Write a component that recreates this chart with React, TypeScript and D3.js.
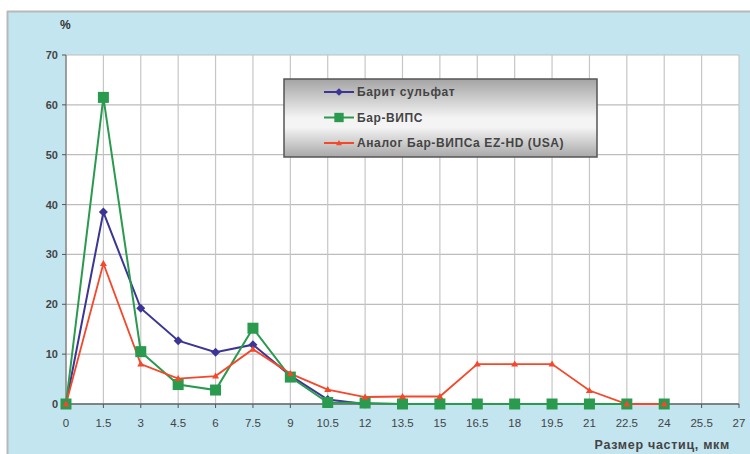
import React from "react";
import * as d3 from "d3";

const xValues = [0, 1.5, 3, 4.5, 6, 7.5, 9, 10.5, 12, 13.5, 15, 16.5, 18, 19.5, 21, 22.5, 24];
const xTicks = [0, 1.5, 3, 4.5, 6, 7.5, 9, 10.5, 12, 13.5, 15, 16.5, 18, 19.5, 21, 22.5, 24, 25.5, 27];
const yTicks = [0, 10, 20, 30, 40, 50, 60, 70];

const bariteSulfate = [0, 38.5, 19.2, 12.7, 10.4, 11.9, 5.7, 0.9, 0];
const barVips = [0, 61.5, 10.5, 3.9, 2.8, 15.2, 5.4, 0.3, 0.2, 0, 0, 0, 0, 0, 0, 0, 0];
const analogEz = [0, 28.2, 8, 5.1, 5.6, 11, 6.1, 2.9, 1.4, 1.5, 1.5, 8, 8, 8, 2.7, 0, 0];

const seriesNames = ["Барит сульфат", "Бар-ВИПС", "Аналог Бар-ВИПСа EZ-HD (USA)"];

const W = 750, H = 454;
const L = 66, R = 739, T = 55, B = 404;

export default function App() {
  const x = d3.scaleLinear().domain([0, 27]).range([L, R]);
  const y = d3.scaleLinear().domain([0, 70]).range([B, T]);
  const line = (vals: number[]) =>
    d3.line<number>().x((_, i) => x(xValues[i])).y((v) => y(v))(vals) || "";

  const series = [
    { name: seriesNames[0], vals: bariteSulfate, color: "#3b3596", marker: "diamond", w: 2 },
    { name: seriesNames[1], vals: barVips, color: "#2a9a4e", marker: "square", w: 2 },
    { name: seriesNames[2], vals: analogEz, color: "#f5472a", marker: "triangle", w: 1.8 },
  ];

  const marker = (type: string, cx: number, cy: number, color: string, key: any, s = 1) => {
    if (type === "square")
      return <rect key={key} x={cx - 5.5 * s} y={cy - 5.5 * s} width={11 * s} height={11 * s} fill={color} />;
    if (type === "diamond")
      return <path key={key} d={`M${cx},${cy - 4.5 * s}L${cx + 4.5 * s},${cy}L${cx},${cy + 4.5 * s}L${cx - 4.5 * s},${cy}Z`} fill={color} />;
    return <path key={key} d={`M${cx},${cy - 3.5 * s}L${cx + 3.5 * s},${cy + 2.5 * s}L${cx - 3.5 * s},${cy + 2.5 * s}Z`} fill={color} />;
  };

  const legX = 284, legY = 79, legW = 313, legH = 78;
  const font = "'Liberation Sans', Arial, sans-serif";

  return (
    <svg width={W} height={H} style={{ position: "absolute", left: 0, top: 0 }} fontFamily={font}>
      <defs>
        <linearGradient id="legGrad" x1="0" y1="0" x2="0" y2="1">
          <stop offset="0" stopColor="#a4a4a4" />
          <stop offset="0.5" stopColor="#f4f4f4" />
          <stop offset="0.62" stopColor="#f4f4f4" />
          <stop offset="1" stopColor="#a8a8a8" />
        </linearGradient>
      </defs>
      <rect x={0} y={0} width={W} height={H} fill="#ffffff" />
      <rect x={7} y={11} width={W - 7} height={H - 11} fill="#c3e5f0" />
      <line x1={7.5} y1={11} x2={7.5} y2={H} stroke="#b8b8b8" strokeWidth={2} />
      <line x1={7} y1={11.5} x2={W} y2={11.5} stroke="#b8b8b8" strokeWidth={2} />
      <rect x={L} y={T} width={R - L} height={B - T} fill="#ffffff" />
      {yTicks.map((t) => (
        <line key={"gy" + t} x1={L} x2={R} y1={y(t)} y2={y(t)} stroke="#bdbdbd" strokeWidth={1.2} />
      ))}
      {xTicks.map((t) => (
        <line key={"gx" + t} x1={x(t)} x2={x(t)} y1={T} y2={B} stroke="#c6c6c6" strokeWidth={1.2} />
      ))}
      <line x1={L} x2={L} y1={T} y2={B} stroke="#777" strokeWidth={1.2} />
      <line x1={L} x2={R} y1={B} y2={B} stroke="#666" strokeWidth={1.5} />
      {yTicks.map((t) => (
        <g key={"ty" + t}>
          <line x1={L - 4} x2={L} y1={y(t)} y2={y(t)} stroke="#555" />
          <text x={L - 8} y={y(t) + 4} textAnchor="end" fontSize={11} fontWeight="bold" fill="#444">{t}</text>
        </g>
      ))}
      {xTicks.map((t) => (
        <g key={"tx" + t}>
          <line x1={x(t)} x2={x(t)} y1={B} y2={B + 4} stroke="#555" />
          <text x={x(t)} y={B + 23} textAnchor="middle" fontSize={11.5} fill="#444">{String(t)}</text>
        </g>
      ))}
      <text x={60} y={29} fontSize={12} fontWeight="bold" fill="#333">%</text>
      <text x={730} y={449} textAnchor="end" fontSize={12.5} fontWeight="bold" letterSpacing={0.7} fill="#444">Размер частиц, мкм</text>
      {series.map((s) => (
        <path key={s.name} d={line(s.vals)} fill="none" stroke={s.color} strokeWidth={s.w} />
      ))}
      {series.map((s, si) => s.vals.map((v, i) => marker(s.marker, x(xValues[i]), y(v), s.color, si + "-" + i)))}
      <rect x={legX} y={legY} width={legW} height={legH} fill="url(#legGrad)" stroke="#555" strokeWidth={1.5} />
      {series.map((s, i) => {
        const ly = legY + 13 + i * 25.5;
        return (
          <g key={"leg" + i}>
            <line x1={legX + 40} x2={legX + 70} y1={ly} y2={ly} stroke={s.color} strokeWidth={2} />
            {marker(s.marker, legX + 55, ly, s.color, "lm" + i, 0.85)}
            <text x={legX + 73} y={ly + 4} fontSize={12} fontWeight="bold" letterSpacing={0.6} fill="#444">{s.name}</text>
          </g>
        );
      })}
    </svg>
  );
}
